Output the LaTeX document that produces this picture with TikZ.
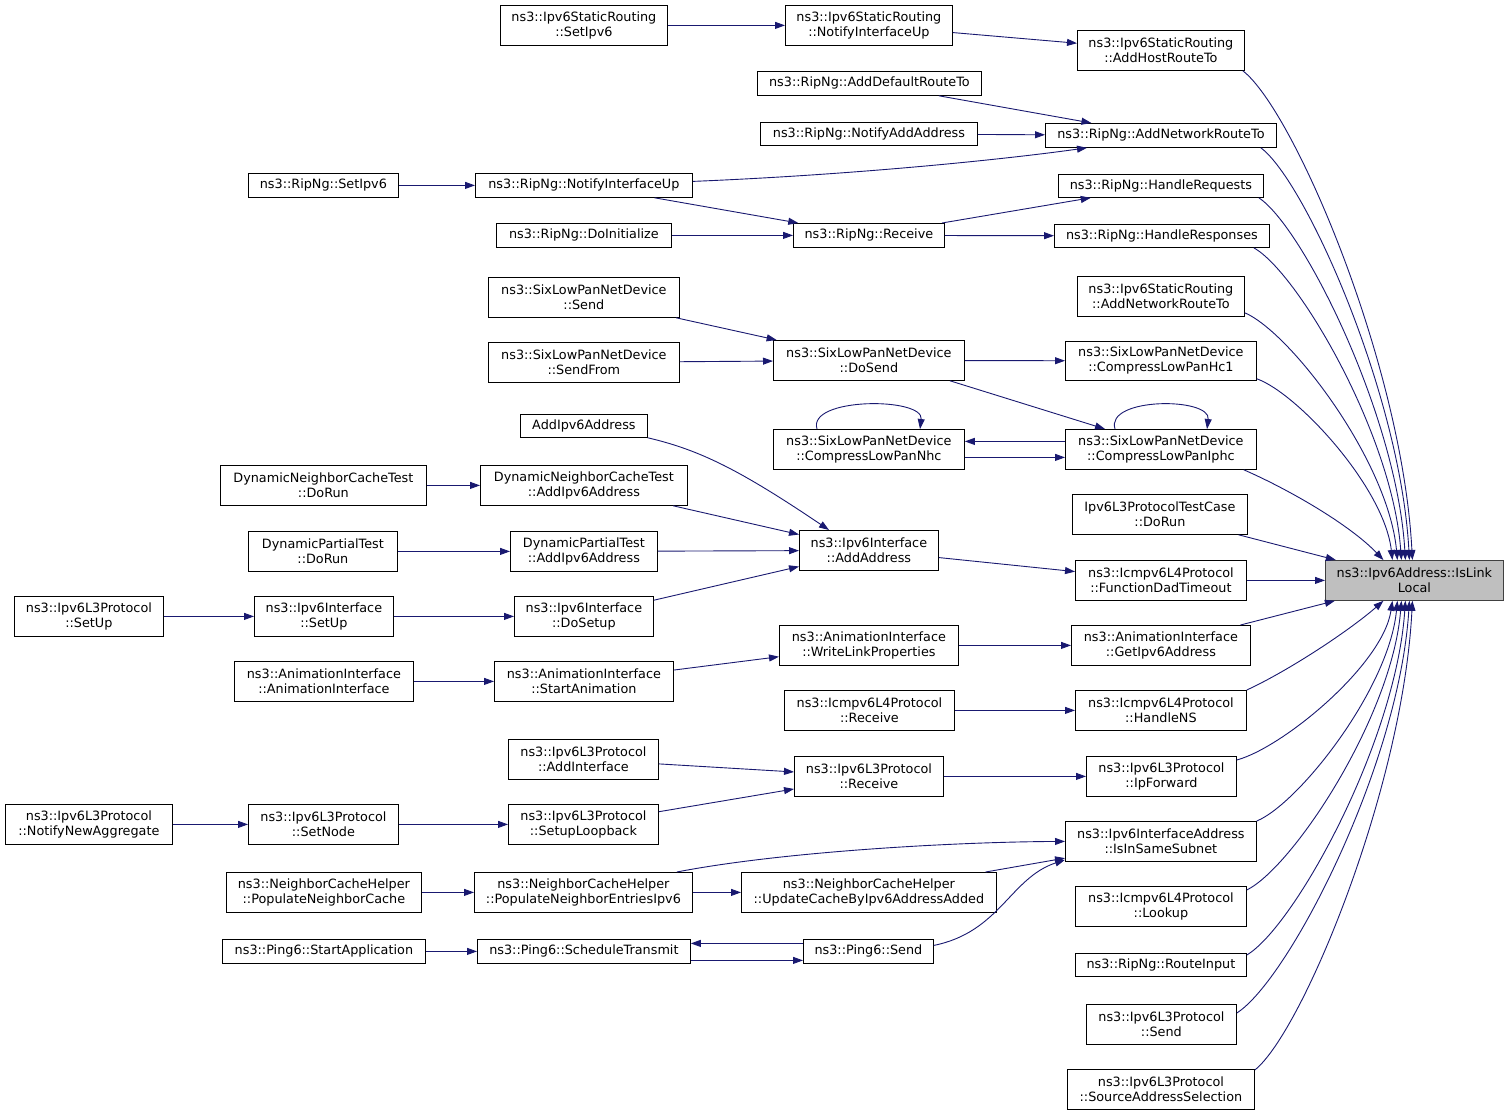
\documentclass[tikz,border=0pt]{standalone}
\usepackage{fontspec}
\setmainfont{DejaVu Sans}
\usetikzlibrary{arrows.meta,calc}
\definecolor{navy}{HTML}{191970}
\definecolor{tgray}{HTML}{BFBFBF}
\definecolor{tborder}{HTML}{404040}
\tikzset{
  box/.style={draw=black,fill=white,anchor=north west,inner sep=0pt,align=center,
    font=\fontsize{12.8}{15}\selectfont,line width=0.8pt},
  arr/.style={draw=navy,line width=0.9pt,-{Triangle[length=10pt,width=7pt]}}
}
\newcommand\mkbox[6]{\node[box,minimum width=#4-#2,minimum height=#5-#3] (#1) at (#2,#3) {#6};}
\newcommand\tcurve[2]{\draw[arr] let \p1=#1, \p2=#2 in (\p1) .. controls ({\x1+0.3*(\x2-\x1)},{\y1+0.08*(\y2-\y1)}) and ({\x2-0.06*(\x2-\x1)},{\y1+0.6*(\y2-\y1)}) .. (\p2);}
\begin{document}
\begin{tikzpicture}[x=1pt,y=-1pt]
\useasboundingbox (0,0) rectangle (1509,1115);
% target
\node[box,fill=tgray,draw=tborder,minimum width=178,minimum height=40] (T) at (1325,560) {ns3::Ipv6Address::IsLink\\Local};
% column A
\mkbox{A1}{1077}{30}{1244}{70}{ns3::Ipv6StaticRouting\\::AddHostRouteTo}
\mkbox{A2}{1045}{123}{1276}{147}{ns3::RipNg::AddNetworkRouteTo}
\mkbox{A3}{1058}{174}{1263}{197}{ns3::RipNg::HandleRequests}
\mkbox{A4}{1054}{224}{1269}{247}{ns3::RipNg::HandleResponses}
\mkbox{A5}{1077}{276}{1244}{316}{ns3::Ipv6StaticRouting\\::AddNetworkRouteTo}
\mkbox{A6}{1065}{341}{1256}{380}{ns3::SixLowPanNetDevice\\::CompressLowPanHc1}
\mkbox{A7}{1065}{429}{1256}{469}{ns3::SixLowPanNetDevice\\::CompressLowPanIphc}
\mkbox{A8}{1072}{494}{1247}{534}{Ipv6L3ProtocolTestCase\\::DoRun}
\mkbox{A9}{1075}{560}{1246}{600}{ns3::Icmpv6L4Protocol\\::FunctionDadTimeout}
\mkbox{A10}{1071}{625}{1250}{665}{ns3::AnimationInterface\\::GetIpv6Address}
\mkbox{A11}{1075}{690}{1246}{730}{ns3::Icmpv6L4Protocol\\::HandleNS}
\mkbox{A12}{1086}{756}{1236}{796}{ns3::Ipv6L3Protocol\\::IpForward}
\mkbox{A13}{1065}{821}{1256}{861}{ns3::Ipv6InterfaceAddress\\::IsInSameSubnet}
\mkbox{A14}{1075}{886}{1246}{926}{ns3::Icmpv6L4Protocol\\::Lookup}
\mkbox{A15}{1075}{953}{1246}{976}{ns3::RipNg::RouteInput}
\mkbox{A16}{1086}{1004}{1236}{1044}{ns3::Ipv6L3Protocol\\::Send}
\mkbox{A17}{1067}{1069}{1254}{1109}{ns3::Ipv6L3Protocol\\::SourceAddressSelection}
% column B
\mkbox{B1}{785}{5}{952}{45}{ns3::Ipv6StaticRouting\\::NotifyInterfaceUp}
\mkbox{B2}{757}{71}{981}{95}{ns3::RipNg::AddDefaultRouteTo}
\mkbox{B3}{760}{122}{977}{145}{ns3::RipNg::NotifyAddAddress}
\mkbox{B4}{793}{223}{944}{247}{ns3::RipNg::Receive}
\mkbox{B5}{773}{340}{964}{380}{ns3::SixLowPanNetDevice\\::DoSend}
\mkbox{B6}{773}{429}{964}{469}{ns3::SixLowPanNetDevice\\::CompressLowPanNhc}
\mkbox{B7}{799}{530}{938}{570}{ns3::Ipv6Interface\\::AddAddress}
\mkbox{B8}{779}{625}{958}{665}{ns3::AnimationInterface\\::WriteLinkProperties}
\mkbox{B9}{784}{690}{954}{730}{ns3::Icmpv6L4Protocol\\::Receive}
\mkbox{B10}{794}{756}{943}{796}{ns3::Ipv6L3Protocol\\::Receive}
\mkbox{B11}{741}{872}{996}{912}{ns3::NeighborCacheHelper\\::UpdateCacheByIpv6AddressAdded}
\mkbox{B12}{803}{939}{933}{963}{ns3::Ping6::Send}
% column C
\mkbox{C1}{500}{5}{667}{45}{ns3::Ipv6StaticRouting\\::SetIpv6}
\mkbox{C2}{475}{173}{692}{197}{ns3::RipNg::NotifyInterfaceUp}
\mkbox{C3}{496}{223}{671}{247}{ns3::RipNg::DoInitialize}
\mkbox{C4}{488}{277}{679}{317}{ns3::SixLowPanNetDevice\\::Send}
\mkbox{C5}{488}{342}{679}{382}{ns3::SixLowPanNetDevice\\::SendFrom}
\mkbox{C6}{520}{414}{647}{437}{AddIpv6Address}
\mkbox{C7}{480}{465}{687}{505}{DynamicNeighborCacheTest\\::AddIpv6Address}
\mkbox{C8}{510}{531}{657}{571}{DynamicPartialTest\\::AddIpv6Address}
\mkbox{C9}{514}{596}{653}{636}{ns3::Ipv6Interface\\::DoSetup}
\mkbox{C10}{494}{661}{673}{701}{ns3::AnimationInterface\\::StartAnimation}
\mkbox{C11}{508}{739}{658}{779}{ns3::Ipv6L3Protocol\\::AddInterface}
\mkbox{C12}{508}{804}{658}{844}{ns3::Ipv6L3Protocol\\::SetupLoopback}
\mkbox{C13}{474}{872}{692}{912}{ns3::NeighborCacheHelper\\::PopulateNeighborEntriesIpv6}
\mkbox{C14}{477}{939}{690}{963}{ns3::Ping6::ScheduleTransmit}
% column D
\mkbox{D1}{248}{173}{398}{197}{ns3::RipNg::SetIpv6}
\mkbox{D2}{220}{465}{426}{505}{DynamicNeighborCacheTest\\::DoRun}
\mkbox{D3}{248}{531}{397}{571}{DynamicPartialTest\\::DoRun}
\mkbox{D4}{254}{596}{393}{636}{ns3::Ipv6Interface\\::SetUp}
\mkbox{D5}{234}{661}{413}{701}{ns3::AnimationInterface\\::AnimationInterface}
\mkbox{D6}{248}{804}{398}{844}{ns3::Ipv6L3Protocol\\::SetNode}
\mkbox{D7}{226}{872}{421}{912}{ns3::NeighborCacheHelper\\::PopulateNeighborCache}
\mkbox{D8}{222}{939}{425}{963}{ns3::Ping6::StartApplication}
% column E
\mkbox{E1}{14}{596}{163}{636}{ns3::Ipv6L3Protocol\\::SetUp}
\mkbox{E2}{5}{804}{172}{844}{ns3::Ipv6L3Protocol\\::NotifyNewAggregate}

% straight edges
\draw[arr] (C1) -- (B1);
\draw[arr] (B1) -- (A1);
\draw[arr] (B2) -- (A2);
\draw[arr] (B3) -- (A2);
\draw[arr] (D1) -- (C2);
\draw[arr] (C2) -- (B4);
\draw[arr] (C3) -- (B4);
\draw[arr] (B4) -- (A3);
\draw[arr] (B4) -- (A4);
\draw[arr] (C4) -- (B5);
\draw[arr] (C5) -- (B5);
\draw[arr] (B5) -- (A6);
\draw[arr] ($(B5.south west)+(177,0)$) -- ($(A7.north west)+(40,0)$);
\draw[arr] ($(A7.west)+(0,-8)$) -- ($(B6.east)+(0,-8)$);
\draw[arr] ($(B6.east)+(0,8)$) -- ($(A7.west)+(0,8)$);
\draw[arr] (D2) -- (C7);
\draw[arr] (C7) -- (B7);
\draw[arr] (D3) -- (C8);
\draw[arr] (C8) -- (B7);
\draw[arr] (E1) -- (D4);
\draw[arr] (D4) -- (C9);
\draw[arr] (C9) -- (B7);
\draw[arr] (B7) -- (A9);
\draw[arr] (D5) -- (C10);
\draw[arr] (C10) -- (B8);
\draw[arr] (B8) -- (A10);
\draw[arr] (B9) -- (A11);
\draw[arr] (C11) -- (B10);
\draw[arr] (E2) -- (D6);
\draw[arr] (D6) -- (C12);
\draw[arr] (C12) -- (B10);
\draw[arr] (B10) -- (A12);
\draw[arr] (D7) -- (C13);
\draw[arr] (C13) -- (B11);
\draw[arr] (B11) -- (A13);
\draw[arr] (D8) -- (C14);
\draw[arr] ($(C14.east)+(0,9)$) -- ($(B12.west)+(0,9)$);
\draw[arr] ($(B12.west)+(0,-8)$) -- ($(C14.east)+(0,-8)$);
\draw[arr] (A8) -- (T);
\draw[arr] (A9) -- (T);
\draw[arr] (A10) -- (T);

% curved edges
\draw[arr] ($(C2.east)+(0,-4)$) .. controls (850,175) and (1000,160) .. ($(A2.south west)+(42,0)$);
\draw[arr] (C6.south east) .. controls (700,450) and (740,470) .. ($(B7.north west)+(30,0)$);
\draw[arr] ($(C13.north east)+(-16,0)$) .. controls (780,852) and (950,842) .. (A13.west);
\draw[arr] ($(B12.east)+(0,-6)$) .. controls (1000,932) and (1010,878) .. ($(A13.south west)+(0,-2)$);
% self loops
\draw[arr] ($(A7.north west)+(50,0)$) .. controls ($(A7.north west)+(40,-32)$) and ($(A7.north west)+(146,-32)$) .. ($(A7.north west)+(142,0)$);
\draw[arr] ($(B6.north west)+(44,0)$) .. controls ($(B6.north west)+(34,-32)$) and ($(B6.north west)+(151,-32)$) .. ($(B6.north west)+(147,0)$);

% curves into target
\tcurve{($(A1.south east)+(-2,0)$)}{($(T.north)+(-2,0)$)}
\tcurve{($(A2.south east)+(-16,0)$)}{($(T.north)+(-5,0)$)}
\tcurve{($(A3.south east)+(-5,0)$)}{($(T.north)+(-9,0)$)}
\tcurve{($(A4.south east)+(-16,0)$)}{($(T.north)+(-13,0)$)}
\tcurve{($(A5.south east)+(0,-4)$)}{($(T.north)+(-17,0)$)}
\tcurve{($(A6.south east)+(0,-2)$)}{($(T.north)+(-22,0)$)}
\draw[arr] ($(A7.south east)+(-13,0)$) .. controls (1290,490) and (1350,525) .. ($(T.north)+(-31,0)$);
\draw[arr] (A11.north east) .. controls (1290,670) and (1350,630) .. ($(T.south)+(-31,0)$);
\tcurve{($(A12.north east)+(0,4)$)}{($(T.south)+(-22,0)$)}
\tcurve{(A13.north east)}{($(T.south)+(-17,0)$)}
\tcurve{($(A14.north east)+(0,4)$)}{($(T.south)+(-13,0)$)}
\tcurve{($(A15.north east)+(0,2)$)}{($(T.south)+(-9,0)$)}
\tcurve{($(A16.north east)+(0,9)$)}{($(T.south)+(-5,0)$)}
\tcurve{($(A17.north east)+(0,1)$)}{($(T.south)+(-2,0)$)}
\end{tikzpicture}
\end{document}
